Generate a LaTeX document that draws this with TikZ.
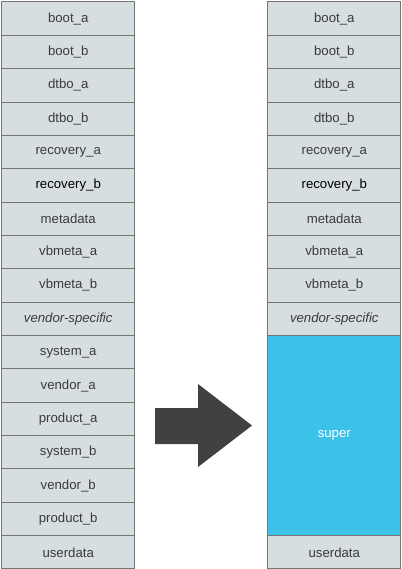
\documentclass[tikz,border=0pt]{standalone}
\usepackage{fontspec}
\setmainfont{Liberation Sans}
\begin{document}
\begin{tikzpicture}[x=1pt,y=-1pt,
  part/.style={draw=edgegray,line width=1pt,fill=partfill,minimum width=133pt,minimum height=33.35pt,inner sep=0pt,anchor=north west,text=txtgray,font=\fontsize{13.2}{15}\selectfont},
  superpart/.style={part,fill=superblue,text=white,minimum height=200.1pt}]
\definecolor{edgegray}{HTML}{747474}
\definecolor{partfill}{HTML}{D7DEE2}
\definecolor{txtgray}{HTML}{3A3A3A}
\definecolor{superblue}{HTML}{3CC1E9}
\definecolor{arrowgray}{HTML}{414141}
\useasboundingbox (0,0) rectangle (401,569);
\foreach \t [count=\i from 0] in {boot\_a,boot\_b,dtbo\_a,dtbo\_b,recovery\_a,{\color{black}recovery\_b},metadata,vbmeta\_a,vbmeta\_b,{\itshape vendor-specific},system\_a,vendor\_a,product\_a,system\_b,vendor\_b,product\_b,userdata}
  \node[part] (l\i) at (1.2,{1.5+33.35*\i}) {\t};
\foreach \t [count=\i from 0] in {boot\_a,boot\_b,dtbo\_a,dtbo\_b,recovery\_a,{\color{black}recovery\_b},metadata,vbmeta\_a,vbmeta\_b,{\itshape vendor-specific}}
  \node[part] (r\i) at (267.3,{1.5+33.35*\i}) {\t};
\node[superpart] (super) at (267.3,{1.5+33.35*10}) {super};
\node[part] (rud) at (267.3,{1.5+33.35*16}) {userdata};
\fill[arrowgray] (155,408) -- (198,408) -- (198,384) -- (252,425.5) -- (198,467) -- (198,444) -- (155,444) -- cycle;
\end{tikzpicture}
\end{document}
